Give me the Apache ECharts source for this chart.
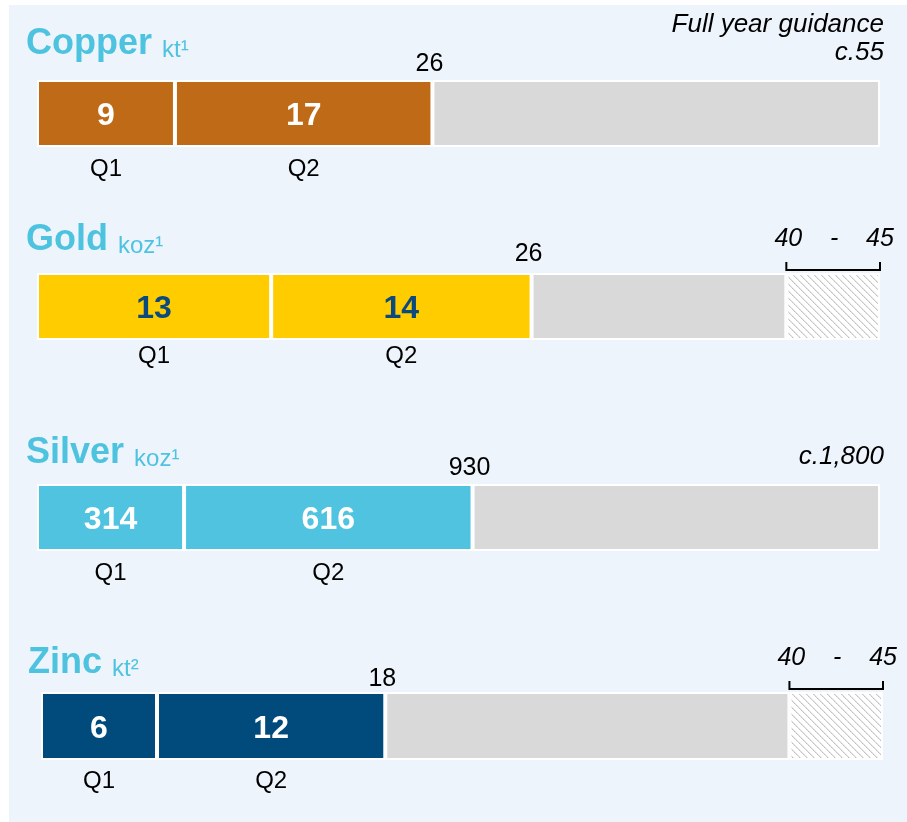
<!DOCTYPE html>
<html>
<head>
<meta charset="utf-8">
<script src="https://cdn.jsdelivr.net/npm/echarts@6/dist/echarts.min.js"></script>
<style>
  html, body { margin: 0; padding: 0; background: #fff; }
  #chart { width: 907px; height: 822px; }
</style>
</head>
<body>
<div id="chart"></div>
<script>
// data
var metals = ['Copper', 'Gold', 'Silver', 'Zinc'];
var units = ['kt¹', 'koz¹', 'koz¹', 'kt²'];
var quarters = ['Q1', 'Q2'];
var q1 = [9.0, 12.5, 314, 6.2];
var q2 = [16.8, 13.9, 616, 12.2];
var guideLow = [55, 40, 1800, 40];
var guideHigh = [55, 45, 1800, 45];
var guideText = ['c.55', '40    -    45', 'c.1,800', '40    -    45'];
var guideTitle = 'Full year guidance';

// look
var barColors = ['#BF6A16', '#FFCC00', '#4FC3E0', '#004B7C'];
var valueColors = ['#ffffff', '#0B4A7E', '#ffffff', '#ffffff'];
var titleBlue = '#4EC3E0';
var restGrey = '#D9D9D9';
var font = '"Liberation Sans", Arial, sans-serif';

// layout (pixels)
var gridLeft = [37, 37, 37, 41];
var gridTop = [80, 273, 484, 692];
var gridWidth = [843, 843, 843, 842];
var gridHeight = [67, 67, 67, 68];
var titleLeft = [26, 26, 26, 28];
var titleTop = [22, 218, 431, 641];
var totalGap = [7, 10, 7, 4];
var quarterGap = [22.5, 16, 22.5, 21.7];

// hatch pattern for the guidance range
var P = 7;
var pat = document.createElement('canvas');
pat.width = P;
pat.height = P;
var pctx = pat.getContext('2d');
pctx.fillStyle = '#ffffff';
pctx.fillRect(0, 0, P, P);
for (var k = 0; k < P; k++) {
    pctx.fillStyle = (k % 2) ? '#C2C2C2' : '#D0D0D0';
    pctx.fillRect(k, k, 1, 1);
    pctx.fillStyle = '#E6E6E6';
    pctx.fillRect((k + 1) % P, k, 1, 1);
}

function txt(x, y, s, size, opts) {
    opts = opts || {};
    return {
        type: 'text',
        x: x,
        y: y,
        style: {
            text: s,
            fill: opts.fill || '#000',
            fontSize: size,
            fontFamily: font,
            fontStyle: opts.italic ? 'italic' : 'normal',
            fontWeight: opts.bold ? 'bold' : 'normal',
            align: opts.align || 'center',
            verticalAlign: 'middle'
        }
    };
}

/* annotation layer for one metal: quarter names, total, guidance text and bracket */
function annotate(i) {
    return function(params, api) {
        var h = api.size([0, 1])[1];
        var yc = api.coord([0, 0])[1];
        var top = yc - h / 2,
            bot = yc + h / 2;
        var total = q1[i] + q2[i];
        var children = [];

        var mids = [q1[i] / 2, q1[i] + q2[i] / 2];
        for (var j = 0; j < quarters.length; j++) {
            children.push(txt(api.coord([mids[j], 0])[0], bot + quarterGap[i], quarters[j], 24));
        }

        // total above the end of Q2
        var endX = api.coord([total, 0])[0];
        children.push(txt(endX - 3, top - totalGap[i] - 8.7, String(Math.round(total)), 25));

        var xLow = api.coord([guideLow[i], 0])[0],
            xHigh = api.coord([guideHigh[i], 0])[0];
        if (guideHigh[i] > guideLow[i]) {
            children.push({
                type: 'polyline',
                shape: { points: [[xLow, top - 11], [xLow, top - 3], [xHigh, top - 3], [xHigh, top - 11]] },
                style: { stroke: '#000', lineWidth: 2, fill: null }
            });
            children.push(txt((xLow + xHigh) / 2 + 1, top - 33.5, guideText[i], 25, { italic: true }));
        } else {
            children.push(txt(xHigh + 4, top - 27, guideText[i], 26, { italic: true, align: 'right' }));
            if (i === 0) {
                children.push(txt(xHigh + 4, top - 55, guideTitle, 26, { italic: true, align: 'right' }));
            }
        }
        return { type: 'group', children: children };
    };
}

var grids = [], xAxes = [], yAxes = [], series = [], titles = [];

metals.forEach(function(name, i) {
    grids.push({ left: gridLeft[i], top: gridTop[i], width: gridWidth[i], height: gridHeight[i] });
    xAxes.push({ type: 'value', gridIndex: i, min: 0, max: guideHigh[i], show: false });
    yAxes.push({ type: 'category', gridIndex: i, data: [name], show: false });

    titles.push({
        left: titleLeft[i],
        top: titleTop[i],
        padding: 0,
        z: 5,
        text: '{a|' + name + ' }{b|' + units[i] + '}',
        textStyle: {
            fontWeight: 'normal',
            rich: {
                a: { fontSize: 36, fontWeight: 'bold', color: titleBlue, fontFamily: font, lineHeight: 40, verticalAlign: 'bottom' },
                b: { fontSize: 24, fontWeight: 'normal', color: titleBlue, fontFamily: font, lineHeight: 32, verticalAlign: 'bottom' }
            }
        }
    });

    var base = {
        type: 'bar',
        xAxisIndex: i,
        yAxisIndex: i,
        stack: 'm' + i,
        barWidth: '100%',
        silent: true
    };
    var valueLabel = {
        show: true,
        position: 'inside',
        offset: [0, 3],
        color: valueColors[i],
        fontSize: 32,
        fontWeight: 'bold',
        fontFamily: font,
        formatter: function(p) { return Math.round(p.value); }
    };
    var border = { borderColor: '#fff', borderWidth: 2 };

    series.push(Object.assign({}, base, {
        name: name + ' Q1',
        data: [q1[i]],
        itemStyle: Object.assign({ color: barColors[i] }, border),
        label: valueLabel
    }));
    series.push(Object.assign({}, base, {
        name: name + ' Q2',
        data: [q2[i]],
        itemStyle: Object.assign({ color: barColors[i] }, border),
        label: valueLabel
    }));
    series.push(Object.assign({}, base, {
        name: name + ' rest',
        data: [guideLow[i] - q1[i] - q2[i]],
        itemStyle: Object.assign({ color: restGrey }, border)
    }));
    if (guideHigh[i] > guideLow[i]) {
        series.push(Object.assign({}, base, {
            name: name + ' range',
            data: [guideHigh[i] - guideLow[i]],
            itemStyle: Object.assign({ color: { image: pat, repeat: 'repeat' } }, border)
        }));
    }
    series.push({
        type: 'custom',
        xAxisIndex: i,
        yAxisIndex: i,
        silent: true,
        z: 5,
        data: [[0, 0]],
        renderItem: annotate(i)
    });
});

var chart = echarts.init(document.getElementById('chart'));
chart.setOption({
    animation: false,
    backgroundColor: '#ffffff',
    graphic: [{
        type: 'rect',
        z: -10,
        shape: { x: 9, y: 5, width: 898, height: 817 },
        style: { fill: '#EEF4FC' },
        silent: true
    }],
    title: titles,
    grid: grids,
    xAxis: xAxes,
    yAxis: yAxes,
    series: series
});
</script>
</body>
</html>
